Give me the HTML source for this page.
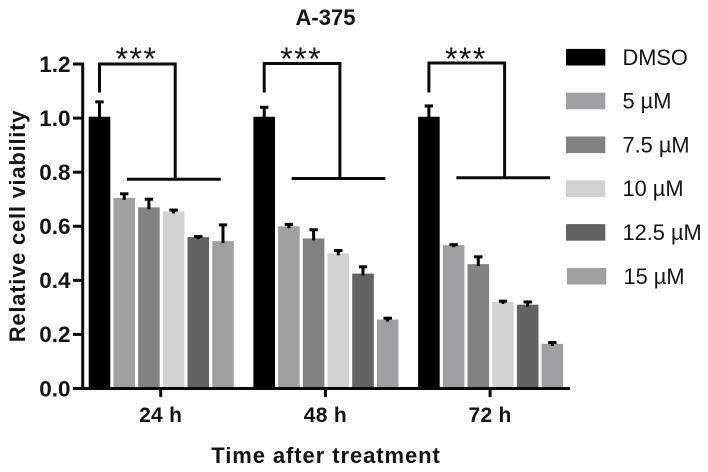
<!DOCTYPE html>
<html>
<head>
<meta charset="utf-8">
<title>A-375 cell viability</title>
<style>
html,body{margin:0;padding:0;background:#fff;width:708px;height:472px;overflow:hidden}
svg{display:block}
text{font-family:"Liberation Sans",sans-serif;fill:#141414}
</style>
</head>
<body>
<svg id="chart" width="708" height="472" viewBox="0 0 708 472"></svg>
<script>
const timepoints = ['24 h', '48 h', '72 h'];
const treatments = ['DMSO', '5 µM', '7.5 µM', '10 µM', '12.5 µM', '15 µM'];
const fills = ['#000000', '#a0a0a3', '#828282', '#d2d2d2', '#636363', '#9f9fa1'];
const means24 = [1.005, 0.705, 0.67, 0.655, 0.56, 0.545];
const means48 = [1.005, 0.60, 0.555, 0.50, 0.425, 0.255];
const means72 = [1.005, 0.53, 0.46, 0.32, 0.31, 0.165];
const errors24 = [0.055, 0.015, 0.03, 0.005, 0.002, 0.06];
const errors48 = [0.035, 0.007, 0.032, 0.01, 0.025, 0.005];
const errors72 = [0.04, 0.002, 0.027, 0.003, 0.01, 0.005];
const yTicks = [0, 0.2, 0.4, 0.6, 0.8, 1.0, 1.2];

const NS = 'http://www.w3.org/2000/svg';
const svg = document.getElementById('chart');
const means = [means24, means48, means72];
const errors = [errors24, errors48, errors72];

function y(v) { return 388.5 - v * 270.4; }
function groupLeft(g) { return 88.7 + g * 164.7; }
function barLeft(g, s) { return groupLeft(g) + s * 24.7; }
const BAR_W = 21.6;

function add(tag, attrs, text) {
  const el = document.createElementNS(NS, tag);
  for (const k in attrs) el.setAttribute(k, attrs[k]);
  if (text !== undefined) el.textContent = text;
  svg.appendChild(el);
  return el;
}
function line(x1, y1, x2, y2, w, color) {
  return add('line', { x1: x1, y1: y1, x2: x2, y2: y2, stroke: color || '#0a0a0a', 'stroke-width': w });
}

let el = add('text', { x: 325.5, y: 25, 'text-anchor': 'middle', 'font-size': 22, 'font-weight': 'bold' }, 'A-375');



// bars and error bars
timepoints.forEach(function (t, g) {
  treatments.forEach(function (name, s) {
    const v = means[g][s];
    const top = y(v);
    const r = add('rect', { x: barLeft(g, s), y: top, width: BAR_W, height: y(0) - top, fill: fills[s] });
    
    
    const cx = barLeft(g, s) + BAR_W / 2;
    const eTop = y(v + errors[g][s]);
    const stem = line(cx, top + 2, cx, eTop, 3, '#000');
    
    
    const cap = line(cx - 4.2, eTop, cx + 4.2, eTop, 3, '#000');
    
    
  });

  // significance bracket
  const left = barLeft(g, 0) + BAR_W / 2;
  const right = left + 75.7;
  const topY = 64 - g * 0.5;
  const lowY = 179.3 - g * 0.8;
  const b = add('path', {
    d: 'M' + left + ' 92.5 V' + topY + ' H' + right + ' V' + lowY,
    fill: 'none', stroke: '#0a0a0a', 'stroke-width': 3
  });
  
  
  const h = line(barLeft(g, 1) + 13.5, lowY, barLeft(g, 5) + 8.5, lowY, 3);
  
  
  const st = add('text', { x: left + 37, y: 70, 'text-anchor': 'middle', 'font-size': 32, 'letter-spacing': '1.5' }, '***');
  
  

  // x ticks and labels
  const tx = barLeft(g, 0) + 72;
  const tk = line(tx, y(0), tx, 397, 3);
  
  
  const lb = add('text', { x: tx, y: 422, 'text-anchor': 'middle', 'font-size': 21, 'font-weight': 'bold', 'letter-spacing': '0.3' }, t);
  
  
});

// axes
const yAxis = line(82.7, y(1.2) - 1.5, 82.7, y(0) + 1.5, 3);


const xAxis = line(73, y(0), 570, y(0), 3);



yTicks.forEach(function (v) {
  const tick = line(73, y(v), 83, y(v), 3);
  
  
  const lab = add('text', { x: 70.5, y: y(v) + 7.8, 'text-anchor': 'end', 'font-size': 22.5, 'font-weight': 'bold' }, v.toFixed(1));
  
  
});

el = add('text', { transform: 'translate(25,226) rotate(-90)', 'text-anchor': 'middle', 'font-size': 22, 'font-weight': 'bold', 'letter-spacing': '0.75' }, 'Relative cell viability');


el = add('text', { x: 326, y: 463, 'text-anchor': 'middle', 'font-size': 22, 'font-weight': 'bold', 'letter-spacing': '0.92' }, 'Time after treatment');



// legend
treatments.forEach(function (name, s) {
  const ly = 57.2 + s * 43.8;
  const sw = add('rect', { x: 566 + (s === 5 ? 1 : 0), y: ly - 8.3, width: 39.3, height: 16.6, fill: fills[s] });
  
  
  const tx = add('text', { x: 622.5 + (s === 5 ? 1 : 0), y: ly + 7.6, 'font-size': 21.8, fill: '#222' }, name);
  
  
});
</script>
</body>
</html>
